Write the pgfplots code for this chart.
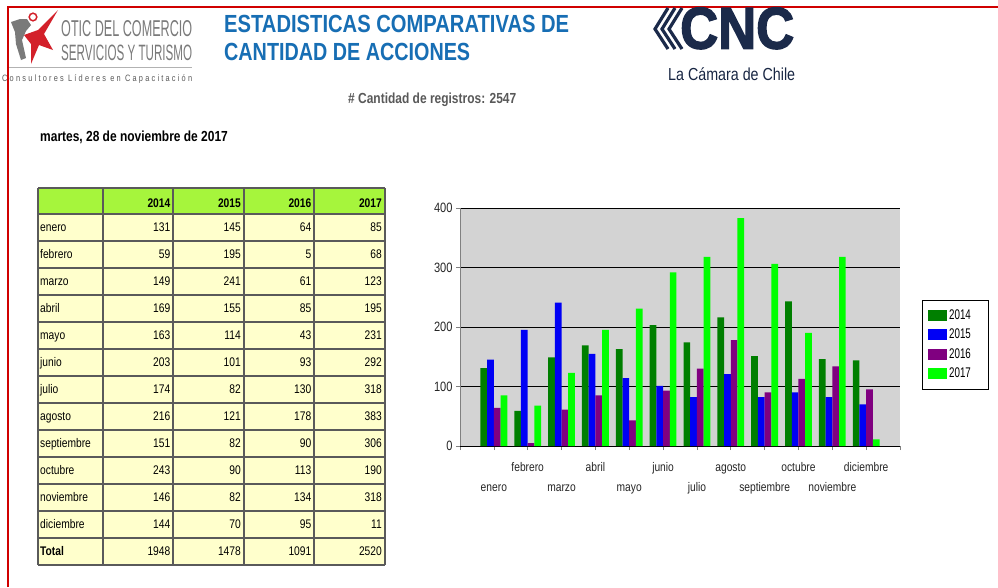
\documentclass[border=0pt]{standalone}
\usepackage{fontspec}
\setmainfont{Liberation Sans}[FakeStretch=0.82]
\newfontfamily\oticfont{Liberation Sans}
\newfontfamily\spacedfont{Liberation Sans}[LetterSpace=30]
\newfontfamily\cncfont{Liberation Sans}[FakeBold=2.5]
\usepackage{pgfplots}
\pgfplotsset{compat=1.18}
\usepackage{pgfplotstable}

\definecolor{c14}{HTML}{007F00}
\definecolor{c15}{HTML}{0000F5}
\definecolor{c16}{HTML}{800080}
\definecolor{c17}{HTML}{00FF00}
\definecolor{titleblue}{HTML}{176EB4}
\definecolor{navy}{HTML}{1B2A4A}
\definecolor{framered}{HTML}{D00000}
\definecolor{hdrgreen}{HTML}{A6F53C}
\definecolor{cellyellow}{HTML}{FFFFCC}
\definecolor{plotgray}{HTML}{D3D3D3}
\definecolor{gridline}{HTML}{5A5A5A}
\definecolor{otigray}{HTML}{7A7A7A}
\definecolor{otired}{HTML}{D3202A}

\pgfplotstableread{
x m a b c d
1 enero 131 145 64 85
2 febrero 59 195 5 68
3 marzo 149 241 61 123
4 abril 169 155 85 195
5 mayo 163 114 43 231
6 junio 203 101 93 292
7 julio 174 82 130 318
8 agosto 216 121 178 383
9 septiembre 151 82 90 306
10 octubre 243 90 113 190
11 noviembre 146 82 134 318
12 diciembre 144 70 95 11
}\datatable

\begin{document}
\begin{tikzpicture}
\begin{scope}[x=1pt,y=-1pt]
\path[fill=white,use as bounding box] (0,0) rectangle (998,587);
% ---- OTIC logo ----
\fill[otigray] (11,22) -- (20,19) -- (27,19) -- (31,25) -- (26,31) -- (22,40) -- (26,58) -- (21,60) -- (16,44) -- (15,32) -- cycle;
\fill[otired] (58,10) -- (44,34) -- (53,50) -- (39,45) -- (31,64) -- (31,44) -- (24,35) -- (38,30) -- cycle;
\draw[otired,line width=1.5pt] (33,17) circle (3.8);
\node[anchor=base west,inner sep=0,text=otigray] at (61,36) {\resizebox{131pt}{16pt}{\oticfont OTIC DEL COMERCIO}};
\node[anchor=base west,inner sep=0,text=otigray] at (61,60) {\resizebox{131pt}{15.5pt}{\oticfont SERVICIOS Y TURISMO}};
\draw[gray!60,line width=0.8pt] (8,67) -- (192,67);
\node[anchor=base west,inner sep=0,text=black!65] at (2,81.5) {\resizebox{190pt}{6.8pt}{\spacedfont\fontsize{8}{8}\selectfont Consultores L\'ideres en Capacitaci\'on}};
% ---- frame ----
\draw[framered,line width=1.6pt] (8,587) -- (8,7) -- (998,7);
% ---- titles ----
\node[anchor=base west,inner sep=0,text=titleblue] at (224,32.5) {\resizebox{345pt}{17.3pt}{\fontsize{24}{24}\selectfont\bfseries ESTADISTICAS COMPARATIVAS DE}};
\node[anchor=base west,inner sep=0,text=titleblue] at (224,60.7) {\resizebox{246pt}{17.3pt}{\fontsize{24}{24}\selectfont\bfseries CANTIDAD DE ACCIONES}};
\node[anchor=base west,inner sep=0,text=black!65,font=\fontsize{14.6}{14.6}\selectfont\bfseries] at (348,103.3) {\# Cantidad de registros: 2547};
\node[anchor=base west,inner sep=0,text=black,font=\fontsize{14.6}{14.6}\selectfont\bfseries] at (40,141.7) {martes, 28 de noviembre de 2017};
% ---- CNC logo ----
\foreach \k in {0,1,2} {
  \draw[navy,line width=3.2pt] (668+7*\k,8) -- (655+7*\k,29) -- (668+7*\k,49);
}
\node[anchor=south west,inner sep=0,text=navy] at (680,49.3) {\resizebox{114pt}{41pt}{\cncfont\bfseries CNC}};
\node[anchor=base west,inner sep=0,text=navy!90!black] at (668,80) {\resizebox{127pt}{!}{\fontsize{17.5}{17.5}\selectfont La C\'amara de Chile}};
% ---- table ----
\fill[hdrgreen] (38,188) rectangle (385,214);
\fill[cellyellow] (38,214) rectangle (385,565);
\foreach \yy in {188,214,241,268,295,322,349,376,403,430,457,484,511,538,565} {
  \draw[gridline,line width=1.2pt] (38,\yy) -- (385,\yy);
}
\foreach \xx in {38,103,173,244,314,385} {
  \draw[gridline,line width=1.2pt] (\xx,188) -- (\xx,565);
}
\begin{scope}[every node/.style={inner sep=0,font=\fontsize{12.5}{12.5}\selectfont}]
\node[anchor=base east,font=\fontsize{12.5}{12.5}\selectfont\bfseries] at (170.5,207.5) {2014};
\node[anchor=base east,font=\fontsize{12.5}{12.5}\selectfont\bfseries] at (241,207.5) {2015};
\node[anchor=base east,font=\fontsize{12.5}{12.5}\selectfont\bfseries] at (311.5,207.5) {2016};
\node[anchor=base east,font=\fontsize{12.5}{12.5}\selectfont\bfseries] at (382,207.5) {2017};
\foreach \m/\a/\b/\c/\d [count=\i from 0] in {enero/131/145/64/85, febrero/59/195/5/68, marzo/149/241/61/123, abril/169/155/85/195, mayo/163/114/43/231, junio/203/101/93/292, julio/174/82/130/318, agosto/216/121/178/383, septiembre/151/82/90/306, octubre/243/90/113/190, noviembre/146/82/134/318, diciembre/144/70/95/11} {
  \pgfmathsetmacro\yb{214+27*\i+17.9}
  \node[anchor=base west] at (40,\yb) {\m};
  \node[anchor=base east] at (170.5,\yb) {\a};
  \node[anchor=base east] at (241,\yb) {\b};
  \node[anchor=base east] at (311.5,\yb) {\c};
  \node[anchor=base east] at (382,\yb) {\d};
}
\node[anchor=base west,font=\fontsize{12.5}{12.5}\selectfont\bfseries] at (40,555.9) {Total};
\node[anchor=base east] at (170.5,555.9) {1948};
\node[anchor=base east] at (241,555.9) {1478};
\node[anchor=base east] at (311.5,555.9) {1091};
\node[anchor=base east] at (382,555.9) {2520};
\end{scope}
\end{scope}
% ---- chart ----
\begin{axis}[
  at={(460pt,-446pt)}, anchor=south west,
  scale only axis, width=440pt, height=238pt,
  xmin=0, xmax=13, ymin=0, ymax=400,
  ybar=0pt, bar width=6.7pt,
  axis background/.style={fill=plotgray},
  axis x line=bottom, axis y line=left,
  x axis line style={-,black,line width=0.9pt},
  y axis line style={-,gray,line width=0.9pt},
  ymajorgrids, major grid style={black,line width=0.8pt},
  ytick={0,100,200,300,400},
  xtick={1,...,12},
  minor xtick={0,13},
  xticklabels={{\raisebox{-20pt}{enero}},febrero,{\raisebox{-20pt}{marzo}},abril,{\raisebox{-20pt}{mayo}},junio,{\raisebox{-20pt}{julio}},agosto,{\raisebox{-20pt}{septiembre}},octubre,{\raisebox{-20pt}{noviembre}},diciembre},
  xticklabel style={anchor=base,yshift=-21pt,font=\fontsize{12.5}{12.5}\selectfont,text=black!85},
  yticklabel style={font=\fontsize{13.5}{13.5}\selectfont,text=black!85},
  /pgf/number format/assume math mode=true,
  tick align=outside, major tick length=4pt, minor tick length=4pt,
  tick style={gray,line width=0.6pt},
  legend style={at={(1.05,0.615)},anchor=north west,draw=black,fill=white,
    font=\fontsize{14}{14}\selectfont,inner xsep=6pt,inner ysep=8pt,row sep=4pt},
  legend cell align=left,
]
\addplot[fill=c14,draw=none,legend image code/.code={\fill[c14] (0pt,-5.5pt) rectangle (19pt,5.5pt);}] table[x=x,y=a]{\datatable};
\addplot[fill=c15,draw=none,legend image code/.code={\fill[c15] (0pt,-5.5pt) rectangle (19pt,5.5pt);}] table[x=x,y=b]{\datatable};
\addplot[fill=c16,draw=none,legend image code/.code={\fill[c16] (0pt,-5.5pt) rectangle (19pt,5.5pt);}] table[x=x,y=c]{\datatable};
\addplot[fill=c17,draw=none,legend image code/.code={\fill[c17] (0pt,-5.5pt) rectangle (19pt,5.5pt);}] table[x=x,y=d]{\datatable};
\legend{\scalebox{0.85}[1]{2014}\hspace*{9pt},\scalebox{0.85}[1]{2015}\hspace*{9pt},\scalebox{0.85}[1]{2016}\hspace*{9pt},\scalebox{0.85}[1]{2017}\hspace*{9pt}}
\end{axis}
\end{tikzpicture}
\end{document}
